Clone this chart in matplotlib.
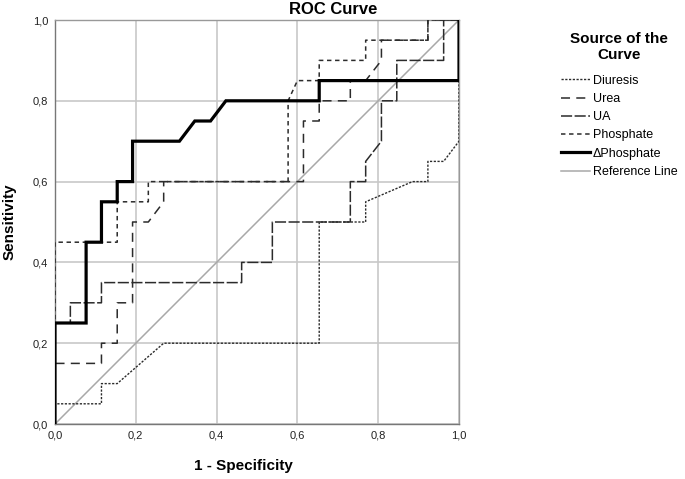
import matplotlib
matplotlib.use('Agg')
import matplotlib.pyplot as plt

plt.rcParams['font.family'] = ['Liberation Sans', 'DejaVu Sans']
plt.rcParams['lines.scale_dashes'] = False

# ---- data ----
diuresis_fpr = [0, 0, 0.115, 0.115, 0.154, 0.269, 0.654, 0.654, 0.769, 0.769, 0.885, 0.923, 0.923, 0.962, 1.0, 1.0]
diuresis_tpr = [0, 0.05, 0.05, 0.10, 0.10, 0.20, 0.20, 0.50, 0.50, 0.55, 0.60, 0.60, 0.65, 0.65, 0.70, 1.0]

urea_fpr = [0, 0, 0.115, 0.115, 0.154, 0.154, 0.192, 0.192, 0.231, 0.269, 0.269, 0.615, 0.615, 0.654, 0.654,
            0.731, 0.731, 0.769, 0.808, 0.808, 0.923, 0.923, 1.0]
urea_tpr = [0, 0.15, 0.15, 0.20, 0.20, 0.30, 0.30, 0.50, 0.50, 0.55, 0.60, 0.60, 0.75, 0.75, 0.80,
            0.80, 0.85, 0.85, 0.90, 0.95, 0.95, 1.0, 1.0]

ua_fpr = [0, 0, 0.038, 0.038, 0.115, 0.115, 0.462, 0.462, 0.538, 0.538, 0.731, 0.731, 0.769, 0.769,
          0.808, 0.808, 0.846, 0.846, 0.962, 0.962, 1.0]
ua_tpr = [0, 0.25, 0.25, 0.30, 0.30, 0.35, 0.35, 0.40, 0.40, 0.50, 0.50, 0.60, 0.60, 0.65,
          0.70, 0.80, 0.80, 0.90, 0.90, 1.0, 1.0]

phos_fpr = [0, 0, 0.154, 0.154, 0.231, 0.231, 0.577, 0.577, 0.60, 0.654, 0.654, 0.769, 0.769, 0.923, 0.923, 1.0]
phos_tpr = [0, 0.45, 0.45, 0.55, 0.55, 0.60, 0.60, 0.80, 0.85, 0.85, 0.90, 0.90, 0.95, 0.95, 1.0, 1.0]

dphos_fpr = [0, 0, 0.077, 0.077, 0.115, 0.115, 0.154, 0.154, 0.192, 0.192, 0.308, 0.346, 0.385, 0.423,
             0.654, 0.654, 1.0, 1.0]
dphos_tpr = [0, 0.25, 0.25, 0.45, 0.45, 0.55, 0.55, 0.60, 0.60, 0.70, 0.70, 0.75, 0.75, 0.80,
             0.80, 0.85, 0.85, 1.0]

ref_x = [0, 1]
ref_y = [0, 1]

ticks = [0.0, 0.2, 0.4, 0.6, 0.8, 1.0]
tick_labels = ["0,0", "0,2", "0,4", "0,6", "0,8", "1,0"]

# ---- figure ----
W, H = 685, 479
fig = plt.figure(figsize=(W / 100, H / 100), dpi=100)
ax = fig.add_axes([55 / W, 1 - 424 / H, 404 / W, 404 / H])

ax.set_xlim(0, 1)
ax.set_ylim(0, 1)
ax.set_xticks(ticks)
ax.set_yticks(ticks)
ax.set_xticklabels(tick_labels, fontsize=8)
ax.set_yticklabels(tick_labels, fontsize=8)
ax.tick_params(length=0, pad=5, colors='#222222')
ax.grid(True, color='#c8c8c8', lw=1.2, zorder=0)
for s in ax.spines.values():
    s.set_color('#999999')
    s.set_linewidth(1.0)
ax.spines['left'].set_color('#777777')
ax.spines['bottom'].set_color('#777777')

curve_col = '#2b2b2b'
ax.plot(ref_x, ref_y, color='#a8a8a8', lw=1.1, label='Reference Line', zorder=2)
ax.plot(diuresis_fpr, diuresis_tpr, color=curve_col, lw=1.0, dashes=(1.6, 1.1), label='Diuresis', zorder=3)
ax.plot(urea_fpr, urea_tpr, color=curve_col, lw=1.1, dashes=(6.5, 4.5), label='Urea', zorder=3)
ax.plot(ua_fpr, ua_tpr, color=curve_col, lw=1.1, dashes=(8, 1.8), label='UA', zorder=3)
ax.plot(phos_fpr, phos_tpr, color=curve_col, lw=1.1, dashes=(3.2, 2.6), label='Phosphate', zorder=3)
ax.plot(dphos_fpr, dphos_tpr, color='black', lw=2.3, solid_joinstyle='miter', label='ΔPhosphate', zorder=4)

handles, labels = ax.get_legend_handles_labels()
order = [1, 2, 3, 4, 5, 0]
leg = fig.legend([handles[i] for i in order], [labels[i] for i in order],
                 loc='upper left', bbox_to_anchor=(561 / W, 1 - 32 / H),
                 frameon=False, fontsize=9, title='Source of the\nCurve',
                 title_fontproperties={'weight': 'bold', 'size': 11},
                 handlelength=2.3, handletextpad=0.25, labelspacing=0.5,
                 borderpad=0, borderaxespad=0)
leg._legend_box.align = 'center'
leg.get_title().set_multialignment('center')
leg._legend_box.sep = 9

fig.text(333 / W, 1 - 9 / H, 'ROC Curve', ha='center', va='center', fontsize=12, fontweight='bold')
fig.text(243 / W, 1 - 466 / H, '1 - Specificity', ha='center', va='center', fontsize=11, fontweight='bold')
fig.text(10 / W, 1 - 222 / H, 'Sensitivity', ha='center', va='center', rotation=90, fontsize=11, fontweight='bold')

fig.savefig('out.png', dpi=100)
